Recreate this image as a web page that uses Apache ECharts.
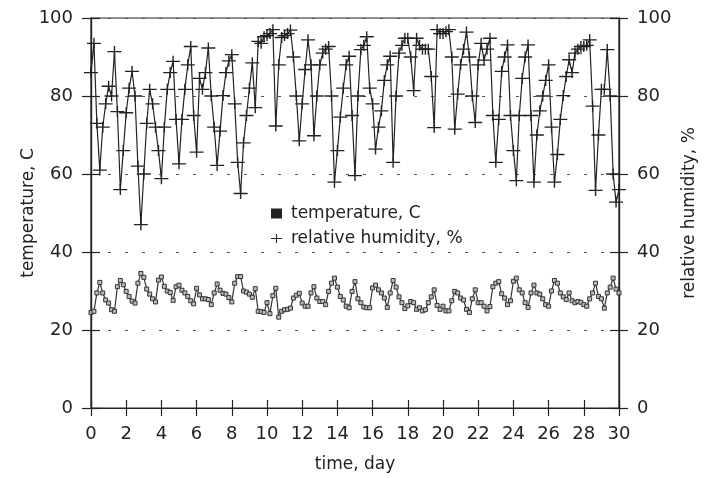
<!DOCTYPE html>
<html>
<head>
    <meta charset="utf-8">
    <title>temperature and relative humidity</title>
    <script src="https://cdn.jsdelivr.net/npm/echarts@6/dist/echarts.min.js"></script>
    <style>
        html, body { margin: 0; padding: 0; background: #fff; }
        #chart { width: 707px; height: 478px; }
    </style>
</head>
<body>
<div id="chart"></div>
<script>
    // one reading every 4 hours, day 0 .. day 30
    var sampleHours = 4;

    var temperature = [
        24.5, 24.8, 29.5, 32.2, 29.5, 27.7,  // day 0
        26.9, 25.2, 24.8, 31.1, 32.7, 31.6,  // 1
        29.9, 28.6, 27.4, 26.9, 32.0, 34.5,  // 2
        33.5, 30.5, 29.2, 28.0, 27.2, 32.8,  // 3
        33.6, 31.2, 30.0, 29.6, 27.6, 31.1,  // 4
        31.5, 30.2, 29.5, 28.6, 27.5, 26.7,  // 5
        30.7, 29.0, 28.0, 28.0, 27.8, 26.5,  // 6
        29.5, 31.8, 30.2, 29.4, 29.2, 28.3,  // 7
        27.2, 32.0, 33.7, 33.7, 30.0, 29.7,  // 8
        29.2, 28.4, 30.6, 24.8, 24.7, 24.5,  // 9
        27.0, 24.2, 28.8, 30.7, 23.3, 24.8,  // 10
        25.2, 25.3, 25.6, 28.2, 28.9, 29.4,  // 11
        26.9, 26.1, 26.1, 29.5, 31.1, 28.2,  // 12
        27.3, 27.3, 26.5, 29.9, 32.0, 33.3,  // 13
        31.0, 28.6, 27.7, 26.1, 25.7, 29.9,  // 14
        32.4, 28.0, 27.0, 25.9, 25.7, 25.7,  // 15
        30.8, 31.5, 30.3, 29.5, 28.2, 25.8,  // 16
        29.5, 32.7, 31.0, 28.5, 27.0, 25.5,  // 17
        26.2, 27.3, 27.0, 25.3, 25.7, 24.9,  // 18
        25.2, 27.0, 28.5, 30.3, 26.3, 25.3,  // 19
        26.1, 24.9, 24.9, 27.5, 29.9, 29.5,  // 20
        28.2, 27.7, 25.3, 24.5, 28.0, 30.3,  // 21
        27.0, 27.0, 26.1, 24.9, 26.0, 31.1,  // 22
        32.0, 32.4, 29.3, 28.2, 26.5, 27.5,  // 23
        32.5, 33.3, 30.3, 29.5, 27.0, 25.8,  // 24
        29.5, 31.5, 29.5, 29.2, 28.0, 26.5,  // 25
        26.1, 30.0, 32.7, 32.0, 29.5, 28.5,  // 26
        27.8, 29.5, 27.5, 27.0, 27.3, 27.1,  // 27
        26.5, 26.1, 28.0, 29.5, 32.0, 28.6,  // 28
        28.0, 25.6, 29.5, 31.0, 33.3, 30.5,  // 29
        29.5                                 // 30
    ];

    var humidity = [
        86, 93.5, 73, 61, 72, 78,            // day 0
        82.5, 80, 91.4, 76, 56, 66,          // 1
        75.7, 82, 86.3, 80, 62, 47,          // 2
        60, 73, 81.7, 78, 72, 66,            // 3
        58.8, 72, 81.7, 86, 88.9, 74,        // 4
        62.6, 74, 81.7, 88, 92.7, 75,        // 5
        65.6, 84.5, 81.7, 86, 92.3, 80,      // 6
        72, 62.2, 71, 80.1, 86, 89,          // 7
        90.6, 78, 63, 55, 68, 75,            // 8
        82, 88.5, 77, 94, 93.5, 95.2,        // 9
        95.5, 96, 97, 72.3, 88, 95,          // 10
        95.5, 96, 96.9, 90, 80, 68.5,        // 11
        78, 86.8, 94.4, 88, 69.8, 80,        // 12
        88, 91, 92, 92.7, 80, 57.9,          // 13
        66, 74.6, 82, 88, 90.2, 75,          // 14
        59.6, 80, 91.9, 93, 95.2, 82,        // 15
        78, 66.4, 72, 76.2, 84, 88,          // 16
        90.2, 63, 80, 91, 93, 94.8,          // 17
        94.8, 90, 81.4, 94.8, 93, 92,        // 18
        92, 92, 85, 71.9, 97, 96,            // 19
        96, 96.5, 97, 90, 71.5, 80.5,        // 20
        88, 92, 96.4, 90, 80, 73.2,          // 21
        88, 93.5, 89.2, 92, 94.8, 75,        // 22
        63, 74, 86.3, 90, 93.1, 75,          // 23
        66, 58.3, 75, 84.5, 90, 93.1,        // 24
        75, 57.9, 70, 76.2, 80, 84,          // 25
        88, 72, 57.9, 65, 74, 80.1,          // 26
        85, 89.3, 86, 91, 92, 92.7,          // 27
        92.7, 93, 94.4, 77.4, 55.8, 70,      // 28
        81.7, 81.7, 91.9, 80, 60, 52.8,      // 29
        56                                   // 30
    ];

    var ink = '#222';
    var font = 'DejaVu Sans';
    var plus = 'path://M0,4.4L12,4.4L12,5.6L0,5.6Z M5.4,0L6.6,0L6.6,10L5.4,10Z';

    function toPoints(values) {
        return values.map(function (v, i) { return [i * sampleHours / 24, v]; });
    }

    function yAxis(pos, inside, withLabels) {
        return {
            type: 'value', position: pos, min: 0, max: 100, interval: 20,
            name: withLabels ? (pos === 'left' ? 'temperature, C' : 'relative humidity, %') : '',
            nameLocation: 'middle',
            nameGap: pos === 'left' ? 54 : 62,
            nameMoveOverlap: false,
            nameRotate: 90,
            nameTextStyle: { fontFamily: font, fontSize: 17, color: ink },
            axisLine: { show: true, lineStyle: { color: ink, width: 1.2 } },
            axisTick: { show: true, inside: inside, length: 9, lineStyle: { color: ink, width: 1.2 } },
            axisLabel: { show: withLabels, margin: 18, fontFamily: font, fontSize: 18, color: ink },
            splitLine: {
                show: pos === 'left' && withLabels,
                lineStyle: { color: '#555', width: 1, type: [3, 14] }
            }
        };
    }

    var chart = echarts.init(document.getElementById('chart'), null, { renderer: 'canvas' });

    var option = {
        animation: false,
        backgroundColor: '#fff',
        grid: { left: 91, right: 88, top: 18, bottom: 67, show: true, borderColor: ink, borderWidth: 1.2 },
        legend: {
            orient: 'vertical', left: 266, top: 200,
            itemWidth: 11, itemHeight: 10, itemGap: 8,
            textStyle: { fontFamily: font, fontSize: 17, color: ink, padding: [0, 0, 0, 4] },
            data: [
                { name: 'temperature, C', icon: 'rect', itemStyle: { color: ink, borderWidth: 0 } },
                { name: 'relative humidity, %', icon: plus, itemStyle: { color: ink } }
            ]
        },
        xAxis: [{
            type: 'value', position: 'bottom', min: 0, max: 30, interval: 2,
            name: 'time, day', nameLocation: 'middle', nameGap: 48,
            nameTextStyle: { fontFamily: font, fontSize: 17, color: ink },
            axisLine: { lineStyle: { color: ink, width: 1.2 } },
            axisTick: { length: 8, lineStyle: { color: ink, width: 1.2 } },
            axisLabel: { margin: 17, fontFamily: font, fontSize: 18, color: ink },
            splitLine: { show: false }
        }, {
            type: 'value', position: 'bottom', min: 0, max: 30, interval: 2,
            axisLine: { show: false },
            axisTick: { inside: true, length: 8, lineStyle: { color: ink, width: 1.2 } },
            axisLabel: { show: false },
            splitLine: { show: false }
        }],
        yAxis: [
            yAxis('left', false, true),
            yAxis('left', true, false),
            yAxis('right', false, true),
            yAxis('right', true, false)
        ],
        series: [{
            name: 'temperature, C',
            type: 'line',
            xAxisIndex: 0, yAxisIndex: 0,
            data: toPoints(temperature),
            symbol: 'rect', symbolSize: 4,
            itemStyle: { color: '#bbb', borderColor: '#333', borderWidth: 1 },
            lineStyle: { color: '#333', width: 1.2 },
            z: 3
        }, {
            name: 'relative humidity, %',
            type: 'line',
            xAxisIndex: 0, yAxisIndex: 2,
            data: toPoints(humidity),
            symbol: plus, symbolSize: [14, 11],
            itemStyle: { color: ink },
            lineStyle: { color: ink, width: 1.2 },
            z: 4
        }]
    };

    chart.setOption(option);
</script>
</body>
</html>
